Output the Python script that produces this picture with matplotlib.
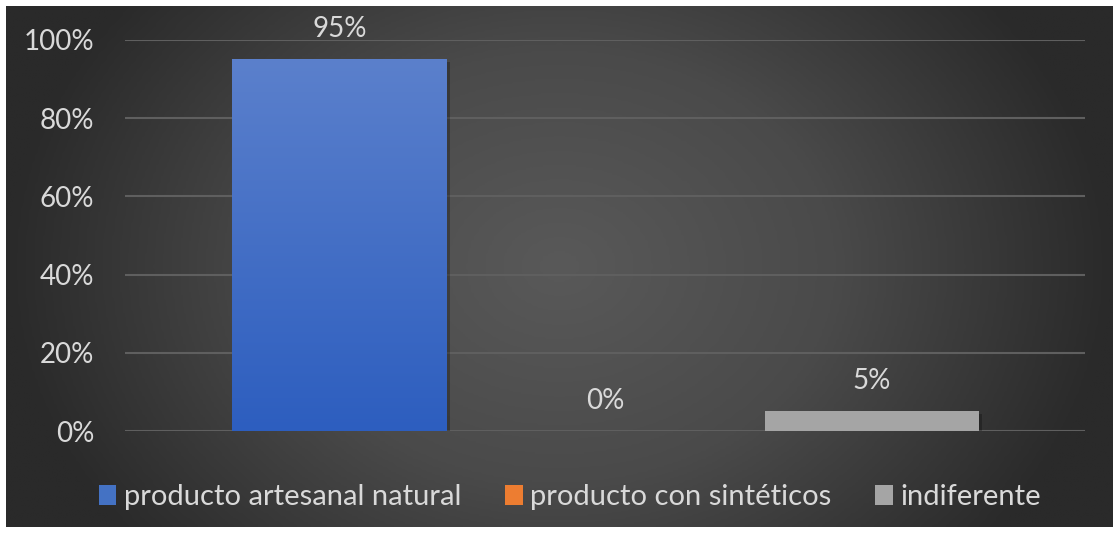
import numpy as np
import matplotlib.pyplot as plt
from matplotlib.colors import LinearSegmentedColormap
from matplotlib.patches import Patch, Rectangle

categories = ["producto artesanal natural", "producto con sintéticos", "indiferente"]
values = [0.95, 0.00, 0.05]
labels = ["95%", "0%", "5%"]
colors = ["#4472c4", "#ed7d31", "#a5a5a5"]
yticks = [0, 0.2, 0.4, 0.6, 0.8, 1.0]
ytick_labels = ["0%", "20%", "40%", "60%", "80%", "100%"]

plt.rcParams['font.family'] = ['Lato', 'DejaVu Sans']
W, H = 1113, 533
fig = plt.figure(figsize=(W / 100, H / 100), dpi=100)
fig.patch.set_facecolor("white")

# dark radial background panel
bg = fig.add_axes([6 / W, 6 / H, (W - 6) / W, (H - 12) / H])
gx, gy = np.meshgrid(np.linspace(-1, 1, 400), np.linspace(-1, 1, 200))
r = np.clip(np.sqrt(gx ** 2 + (gy * 0.6) ** 2), 0, 1)
bg_cmap = LinearSegmentedColormap.from_list("bg", ["#595959", "#4a4a4a", "#2a2a2a"])
bg.imshow(r, cmap=bg_cmap, aspect="auto", extent=[0, 1, 0, 1], vmin=0, vmax=1)
bg.set_axis_off()

ax = fig.add_axes([125 / W, (H - 431) / H, 960 / W, (431 - 40) / H])
ax.patch.set_alpha(0)
x = np.arange(len(categories))
bw = 0.807

for i, (v, c) in enumerate(zip(values, colors)):
    if v <= 0:
        continue
    # soft shadow under each bar
    ax.add_patch(Rectangle((i - bw / 2 + 0.01, -0.006), bw, v, color="black",
                           alpha=0.25, zorder=2, linewidth=0))
    if i == 0:
        # vertical gradient fill for the main bar
        grad = np.linspace(0, 1, 256).reshape(-1, 1)
        cm = LinearSegmentedColormap.from_list("bar", ["#2d5ebf", "#5b80cc"])
        ax.imshow(grad, cmap=cm, aspect="auto", origin="lower",
                  extent=[i - bw / 2, i + bw / 2, 0, v], zorder=3)
    else:
        ax.bar(i, v, width=bw, color=c, zorder=3)

for i, (v, t) in enumerate(zip(values, labels)):
    ax.text(i, v + 0.078, t, ha="center", va="center", color="#d9d9d9", fontsize=20)

ax.set_xlim(-0.806, 2.80)
ax.set_ylim(0, 1.0)
ax.set_yticks(yticks)
ax.set_yticklabels(ytick_labels)
ax.set_xticks([])
ax.tick_params(axis="y", length=0, pad=22, labelsize=20, labelcolor="#d9d9d9")
ax.grid(axis="y", color="#5f5f5f", linewidth=1.5, zorder=0)
for s in ax.spines.values():
    s.set_visible(False)

handles = [Patch(facecolor=c, label=n) for c, n in zip(colors, categories)]
fig.legend(handles=handles, loc="center", bbox_to_anchor=(570 / W, (H - 497) / H),
           ncol=3, frameon=False, fontsize=21, labelcolor="#d9d9d9",
           handlelength=0.6, handleheight=0.7, handletextpad=0.27, columnspacing=1.5)

fig.savefig("out.png", dpi=100)
